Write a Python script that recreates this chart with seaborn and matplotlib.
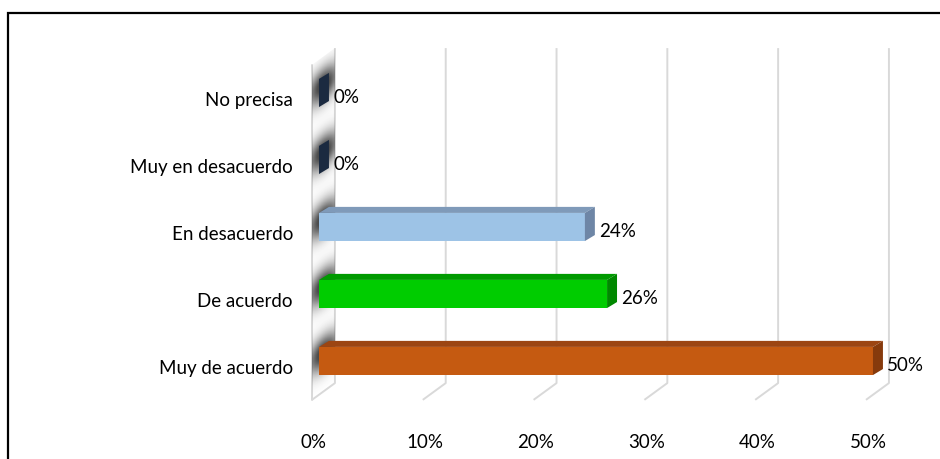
import matplotlib
matplotlib.use("Agg")
import matplotlib.pyplot as plt
from matplotlib.patches import Polygon, Rectangle
import seaborn as sns
import numpy as np

sns.set_theme(style="white")
plt.rcParams["font.family"] = ["Lato", "DejaVu Sans"]

# datos
categorias = ["No precisa", "Muy en desacuerdo", "En desacuerdo", "De acuerdo", "Muy de acuerdo"]
valores = [0, 0, 24, 26, 50]
etiquetas = ["0%", "0%", "24%", "26%", "50%"]
ticks_x = [0, 10, 20, 30, 40, 50]
ticks_lab = ["0%", "10%", "20%", "30%", "40%", "50%"]

# colores: frente, arriba, costado
col_frente = ["#1F3049", "#1F3049", "#9DC3E6", "#00CC00", "#C55A11"]
col_arriba = ["#24344F", "#24344F", "#7F9AB9", "#009A00", "#9C4512"]
col_lado = ["#1B2A40", "#1B2A40", "#6E86A6", "#008800", "#863A0C"]

# 3D offsets (data units)
DX, DY = 0.9, 0.09          # bar depth
BACK, FRONT = 1.44, -0.63   # wall/floor back and front x shift
Y_TOP_B, Y_TOP_F = -0.67, -0.42
Y_BOT_B, Y_BOT_F = 4.33, 4.58
GRID = "#D9D9D9"
FS = 13.5

fig = plt.figure(figsize=(9.4, 4.59), dpi=100)
ax = fig.add_axes([0, 0, 1, 1])

sns.barplot(x=valores, y=categorias, hue=categorias, palette=col_frente,
            orient="h", width=0.42, saturation=1, legend=False,
            linewidth=0, ax=ax)

ax.set_xlim(-28.79, 56.05)
ax.set_ylim(5.463, -1.388)
ax.axis("off")

# gridlines (back wall + floor)
for t in ticks_x:
    ax.plot([t + BACK, t + BACK, t + FRONT], [Y_TOP_B, Y_BOT_B, Y_BOT_F],
            color=GRID, lw=1.4, zorder=0, solid_capstyle="butt")
# side wall front edge
ax.plot([FRONT, FRONT], [Y_TOP_F, Y_BOT_F], color=GRID, lw=1.4, zorder=0)

# wall shading (shadows of the bars)
wall = Polygon([(FRONT, Y_TOP_F), (BACK, Y_TOP_B), (BACK, Y_BOT_B), (FRONT, Y_BOT_F)],
               closed=True, facecolor="none", edgecolor="none")
ax.add_patch(wall)
gx = np.linspace(FRONT, BACK, 60)
gy = np.linspace(Y_TOP_B, Y_BOT_F, 600)
XX, YY = np.meshgrid(gx, gy)
frac = (XX - FRONT) / (BACK - FRONT)
YS = YY + 0.25 * frac
alpha = np.zeros_like(XX)
for i in range(len(categorias)):
    alpha += np.exp(-((YS - (i + 0.0)) / 0.25) ** 2)
alpha *= np.exp(-((frac - 0.5) / 0.7) ** 2)
alpha = np.clip(alpha * 1.15, 0, 1) * 0.9
rgba = np.zeros(XX.shape + (4,))
rgba[..., :3] = 0.22
rgba[..., 3] = alpha
im = ax.imshow(rgba, extent=[FRONT, BACK, Y_BOT_F, Y_TOP_B], origin="upper",
               aspect="auto", zorder=0.5, interpolation="bilinear")
im.set_clip_path(wall)

# 3D faces for each bar
for p in ax.patches:
    if not isinstance(p, Rectangle) or p is wall:
        continue
    yc = p.get_y() + p.get_height() / 2
    i = int(round(yc))
    if i < 0 or i >= len(categorias):
        continue
    p.set_zorder(2)
    x0, x1 = p.get_x(), p.get_x() + p.get_width()
    yt = min(p.get_y(), p.get_y() + p.get_height())
    yb = max(p.get_y(), p.get_y() + p.get_height())
    top = Polygon([(x0, yt), (x1, yt), (x1 + DX, yt - DY), (x0 + DX, yt - DY)],
                  closed=True, facecolor=col_arriba[i], edgecolor="none", zorder=2)
    side = Polygon([(x1, yt), (x1 + DX, yt - DY), (x1 + DX, yb - DY), (x1, yb)],
                   closed=True, facecolor=col_lado[i], edgecolor="none", zorder=2)
    ax.add_patch(top)
    ax.add_patch(side)

# value labels
for i, (v, lab) in enumerate(zip(valores, etiquetas)):
    ax.text(v + 1.3, i + 0.06, lab, ha="left", va="center", fontsize=FS, color="black")

# category labels
for i, c in enumerate(categorias):
    ax.text(-2.35, i + 0.11, c, ha="right", va="center", fontsize=FS, color="black")

# x tick labels
for t, lab in zip(ticks_x, ticks_lab):
    ax.text(t - 0.45, 5.22, lab, ha="center", va="center", fontsize=FS, color="black")

# chart border (only top and left visible)
fig.add_artist(Rectangle((8 / 940, -0.1), 1.2, 1.1 - 13 / 459,
                         transform=fig.transFigure, fill=False,
                         edgecolor="black", lw=1.6))

fig.savefig("out.png", dpi=100)
